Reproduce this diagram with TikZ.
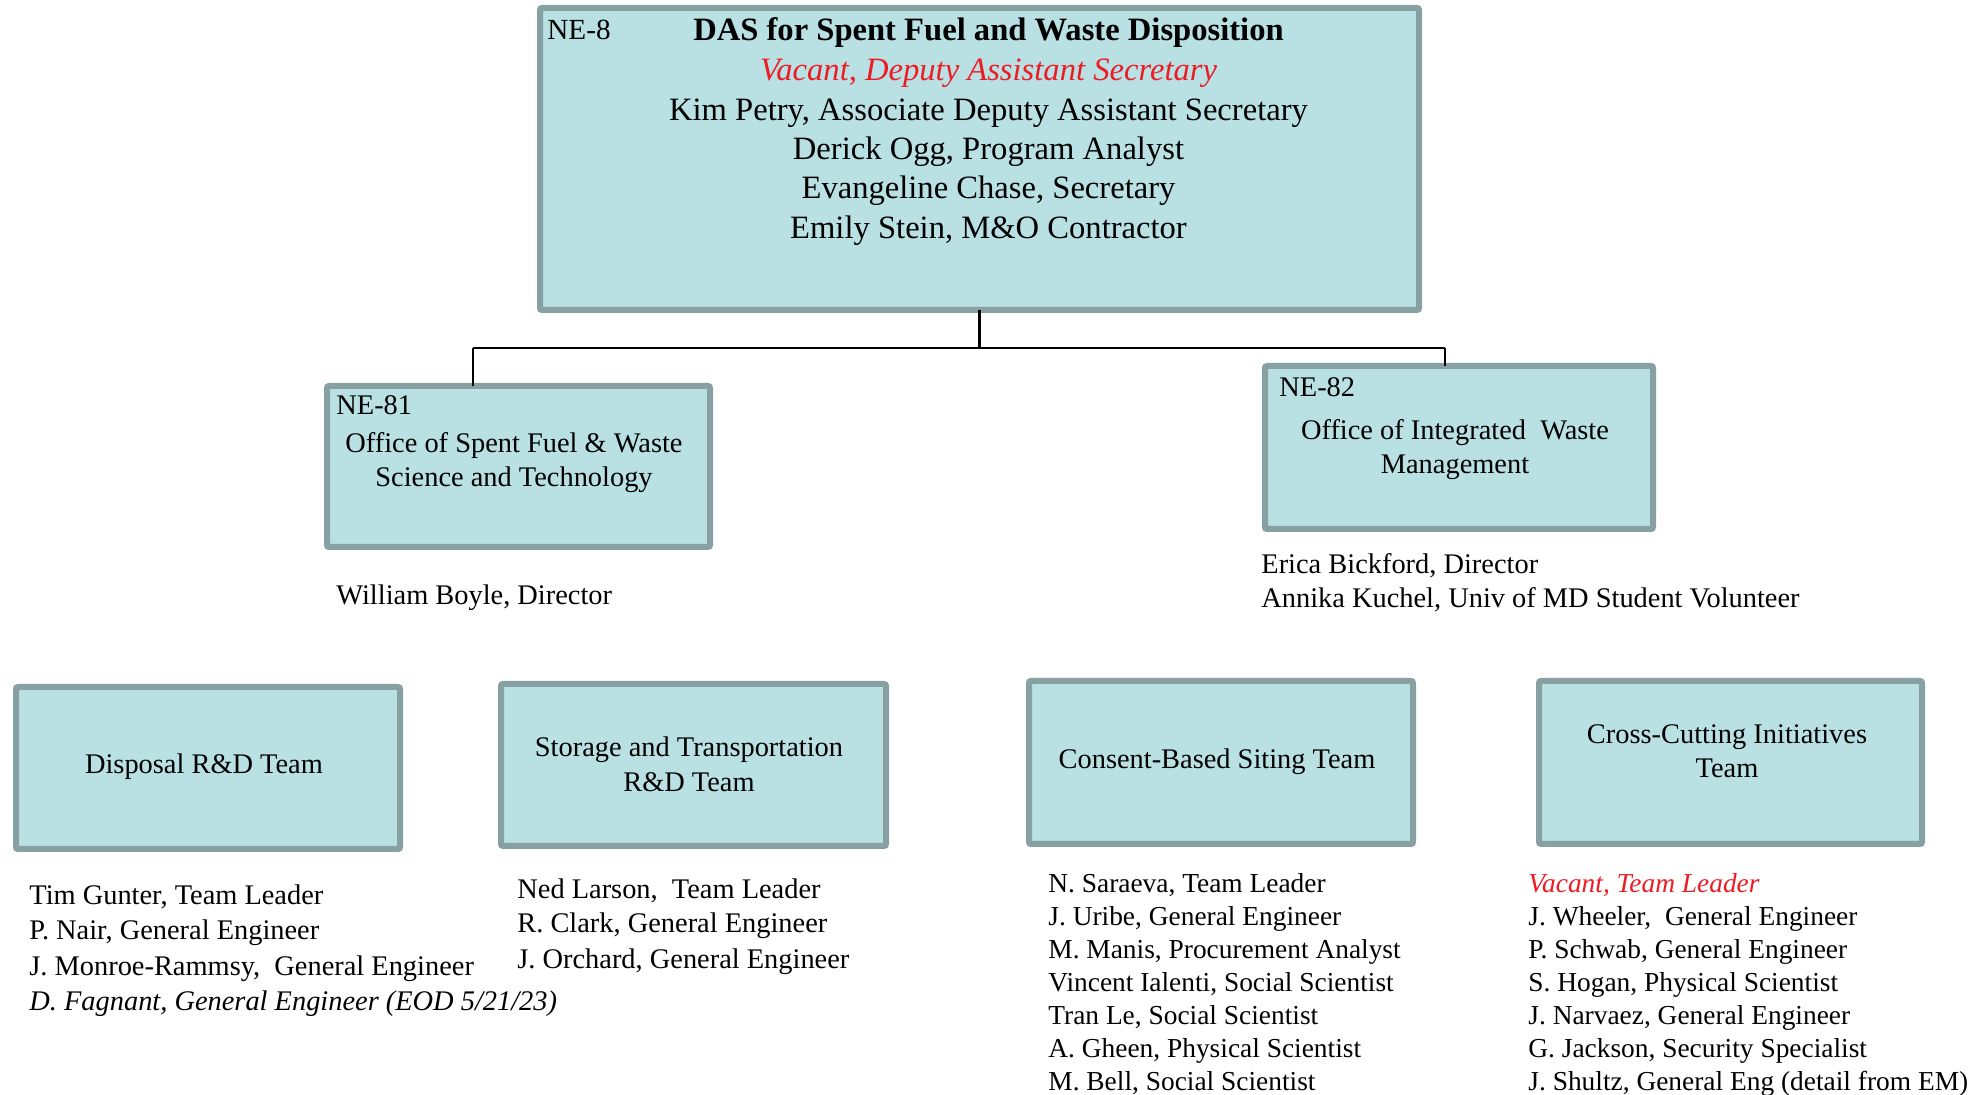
\documentclass[tikz,border=0pt]{standalone}
\usepackage{fontspec}
\setmainfont{Liberation Serif}
\definecolor{boxfill}{RGB}{185,224,227}
\definecolor{boxline}{RGB}{135,160,162}
\definecolor{vacred}{RGB}{237,28,36}
\tikzset{
  orgbox/.style={draw=boxline, fill=boxfill, line width=3pt, rectangle, inner sep=0pt, outer sep=0pt, rounded corners=1pt},
  conn/.style={line width=1.4pt, black},
  toptxt/.style={font=\fontsize{16.3}{19}\selectfont, inner sep=0pt, anchor=base},
  boxtxt/.style={font=\fontsize{14.2}{17}\selectfont, inner sep=0pt, anchor=base},
  lefttxt/.style={font=\fontsize{14.2}{17}\selectfont, inner sep=0pt, anchor=base west},
  smalltxt/.style={font=\fontsize{13.7}{16}\selectfont, inner sep=0pt, anchor=base west}
}
\begin{document}
\begin{tikzpicture}[x=0.5pt,y=-0.5pt]
\fill[white] (0,0) rectangle (1982,1095);
\useasboundingbox (0,0) rectangle (1982,1095);

% boxes
\node[orgbox, minimum width=439.5pt, minimum height=151pt] (top) at (979.5,159) {};
\node[orgbox, minimum width=191.5pt, minimum height=80.5pt] (ne81) at (518.5,466.5) {};
\node[orgbox, minimum width=194pt, minimum height=81.5pt] (ne82) at (1459,447.5) {};
\node[orgbox, minimum width=192pt, minimum height=81pt] (disp) at (208,768) {};
\node[orgbox, minimum width=192.5pt, minimum height=81pt] (stor) at (693.5,765) {};
\node[orgbox, minimum width=192pt, minimum height=81.5pt] (cons) at (1221,762.5) {};
\node[orgbox, minimum width=191.5pt, minimum height=81.5pt] (cross) at (1730.5,762.5) {};

% connectors
\coordinate (bl) at (473,348);
\coordinate (br) at (1445,348);
\draw[conn] (top.south) -- (top.south |- bl);
\draw[conn] (bl) -- (br);
\draw[conn] (bl) -- (bl |- ne81.north);
\draw[conn] (br) -- (br |- ne82.north);

% top box text
\node[lefttxt, font=\fontsize{14.6}{17}\selectfont] (t0) at (547,40) {NE-8};
\node[toptxt] (t1) at (988.5,41) {\bfseries DAS for Spent Fuel and Waste Disposition};
\node[toptxt, text=vacred] (t2) at (988.5,81) {\itshape Vacant, Deputy Assistant Secretary};
\node[toptxt] (t3) at (988.5,120.5) {Kim Petry, Associate Deputy Assistant Secretary};
\node[toptxt] (t4) at (988.5,160) {Derick Ogg, Program Analyst};
\node[toptxt] (t5) at (988.5,199) {Evangeline Chase, Secretary};
\node[toptxt] (t6) at (988.5,238.5) {Emily Stein, M\&O Contractor};

% NE-81
\node[lefttxt] (a0) at (336,415) {NE-81};
\node[boxtxt] (a1) at (514,453) {Office of Spent Fuel \& Waste};
\node[boxtxt] (a2) at (514,487) {Science and Technology};
\node[lefttxt] (a3) at (336,605) {William Boyle, Director};

% NE-82
\node[lefttxt] (b0) at (1279,397) {NE-82};
\node[boxtxt] (b1) at (1455,440) {Office of Integrated\ \ Waste};
\node[boxtxt] (b2) at (1455,474) {Management};
\node[lefttxt] (b3) at (1261,574) {Erica Bickford, Director};
\node[lefttxt] (b4) at (1261,608) {Annika Kuchel, Univ of MD Student Volunteer};

% team labels
\node[boxtxt] (c1) at (204,774) {Disposal R\&D Team};
\node[boxtxt] (d1) at (689,757) {Storage and Transportation};
\node[boxtxt] (d2) at (689,791.5) {R\&D Team};
\node[boxtxt] (e1) at (1217,769) {Consent-Based Siting Team};
\node[boxtxt] (f1) at (1727,744) {Cross-Cutting Initiatives};
\node[boxtxt] (f2) at (1727,778) {Team};

% disposal list
\node[lefttxt] (c2) at (29,905) {Tim Gunter, Team Leader};
\node[lefttxt] (c3) at (29,939.5) {P. Nair, General Engineer};
\node[lefttxt] (c4) at (29,975) {J. Monroe-Rammsy,\ \ General Engineer};
\node[lefttxt] (c5) at (29,1010.5) {\itshape D. Fagnant, General Engineer (EOD 5/21/23)};

% storage list
\node[lefttxt] (d3) at (517,899) {Ned Larson,\ \ Team Leader};
\node[lefttxt] (d4) at (517,933) {R. Clark, General Engineer};
\node[lefttxt] (d5) at (517,968.5) {J. Orchard, General Engineer};

% consent list
\node[smalltxt] (e2) at (1048,892.5) {N. Saraeva, Team Leader};
\node[smalltxt] (e3) at (1048,925.5) {J. Uribe, General Engineer};
\node[smalltxt] (e4) at (1048,958) {M. Manis, Procurement Analyst};
\node[smalltxt] (e5) at (1048,991) {Vincent Ialenti, Social Scientist};
\node[smalltxt] (e6) at (1048,1024) {Tran Le, Social Scientist};
\node[smalltxt] (e7) at (1048,1057) {A. Gheen, Physical Scientist};
\node[smalltxt] (e8) at (1048,1090) {M. Bell, Social Scientist};

% cross list
\node[smalltxt, text=vacred] (f3) at (1528,892.5) {\itshape Vacant, Team Leader};
\node[smalltxt] (f4) at (1528,925.5) {J. Wheeler,\ \ General Engineer};
\node[smalltxt] (f5) at (1528,958) {P. Schwab, General Engineer};
\node[smalltxt] (f6) at (1528,991) {S. Hogan, Physical Scientist};
\node[smalltxt] (f7) at (1528,1024) {J. Narvaez, General Engineer};
\node[smalltxt] (f8) at (1528,1057) {G. Jackson, Security Specialist};
\node[smalltxt] (f9) at (1528,1090) {J. Shultz, General Eng (detail from EM)};
\end{tikzpicture}
\end{document}
